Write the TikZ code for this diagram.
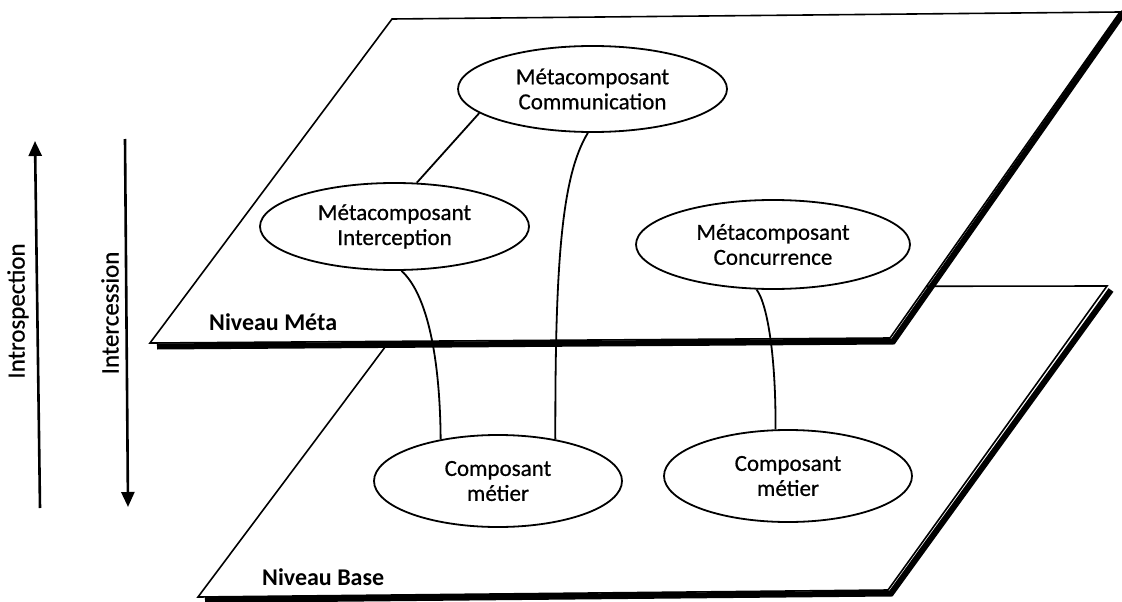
\documentclass[tikz,border=0pt]{standalone}
\usepackage{fontspec}
\setmainfont{Carlito}
\usetikzlibrary{arrows.meta,shapes.geometric}
\begin{document}
\begin{tikzpicture}[x=1pt,y=-1pt,
  plane/.style={draw=black,fill=white,line width=1.6pt,line join=miter},
  planeshadow/.style={draw=black,line width=6pt,line join=miter},
  comp/.style={ellipse,draw=black,line width=1.8pt,fill=white,inner sep=0pt,align=center,
    font=\fontsize{23}{25}\selectfont\addfontfeature{FakeBold=0.6}},
  link/.style={draw=black,line width=1.8pt},
  levellabel/.style={anchor=west,inner sep=0pt,font=\fontsize{24}{26}\selectfont\bfseries},
  axis/.style={draw=black,line width=2.6pt,-{Triangle[width=13pt,length=15pt]}},
  axislabel/.style={rotate=90,inner sep=0pt,font=\fontsize{25}{28}\selectfont\addfontfeature{FakeBold=0.6}}
]
\useasboundingbox (0,0) rectangle (1122,602);

% base level plane
\draw[planeshadow] (205,600) -- (891,593.5) -- (1111,290);
\path[plane] (430,287) -- (1107,286) -- (888,590) -- (198,597) -- cycle;
\node[levellabel] (baselbl) at (262,577) {Niveau Base};

% meta level plane, lying over the base level
\draw[planeshadow] (157,346.5) -- (893,341.5) -- (1124,12);
\path[plane] (392,19) -- (1120,12) -- (890,338) -- (150,343) -- cycle;
\node[levellabel] (metalbl) at (209,322) {Niveau Méta};

% components
\node[comp,minimum width=269pt,minimum height=86pt] (comm) at (592.5,89) {Métacomposant\\Communication};
\node[comp,minimum width=269pt,minimum height=87pt] (interc) at (394.5,226.5) {Métacomposant\\Interception};
\node[comp,minimum width=274pt,minimum height=89pt] (conc) at (773,244.5) {Métacomposant\\Concurrence};
\node[comp,minimum width=248pt,minimum height=92pt] (cm1) at (498,481) {Composant\\métier};
\node[comp,minimum width=248pt,minimum height=92pt] (cm2) at (788,476) {Composant\\métier};

% links between components
\draw[link] (comm.-168) -- (interc.63);
\draw[link] (comm.-96) .. controls (562,175) and (555,260) .. (cm1.36);
\draw[link] (interc.-81) .. controls (428,295) and (440,360) .. (cm1.144);
\draw[link] (conc.-110) .. controls (768,305) and (776,360) .. (cm2.105);

% reflection axes
\coordinate (introS) at (40,508);
\coordinate (introE) at (35,141);
\draw[axis] (introS) -- (introE);
\coordinate (interS) at (125,139);
\coordinate (interE) at (128,507);
\draw[axis] (interS) -- (interE);
\node[axislabel] (introlbl) at (18,311) {Introspection};
\node[axislabel] (interlbl) at (110,313) {Intercession};
\end{tikzpicture}
\end{document}
